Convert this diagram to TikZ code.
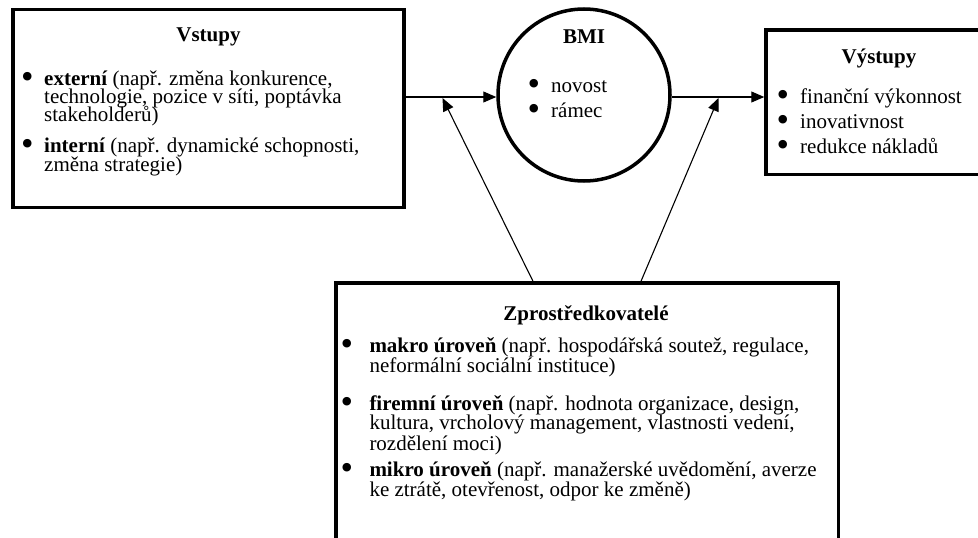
\documentclass[tikz,border=0pt]{standalone}
\usepackage{fontspec}
\setmainfont{Liberation Serif}
\usetikzlibrary{arrows.meta}

% enlarged bullet hung to the left of a line, #1 = gap between bullet and text
\newcommand\hangbul[1]{\llap{\smash{\raisebox{-3pt}{\scalebox{1.7}{\textbullet}}}\hspace{#1}}}

\begin{document}
\begin{tikzpicture}[x=1pt,y=-1pt,
  box/.style={draw, line width=3.5pt, inner sep=0pt},
  txt/.style={anchor=base west, inner sep=0pt, font=\fontsize{21}{21}\selectfont},
  ttl/.style={anchor=base, inner sep=0pt, font=\fontsize{21}{21}\selectfont\bfseries},
  flow/.style={line width=1.1pt, -{Triangle[length=13pt,width=11pt]}},
]
\useasboundingbox (0,0) rectangle (978,538);
\begin{scope}
\clip (0,0) rectangle (978,538);

% boxes and circle
\node[box, minimum width=391pt, minimum height=198pt] (in) at (208.5,108.5) {};
\node[box, circle, minimum size=172pt] (bmi) at (584,95) {};
\node[box, minimum width=226pt, minimum height=144.7pt] (out) at (879,102.35) {};
\node[box, minimum width=502.7pt, minimum height=277pt] (med) at (587.35,421.5) {};

% inputs
\node[ttl] (inT) at (208.5,41.7) {Vstupy};
\node[txt] (in1) at (44,85) {\hangbul{10.5pt}\textbf{externí} (např. změna konkurence,};
\node[txt] (in2) at (44,103.3) {technologie, pozice v síti, poptávka};
\node[txt] (in3) at (44,121.7) {stakeholderů)};
\node[txt] (in4) at (44,152.7) {\hangbul{10.5pt}\textbf{interní} (např. dynamické schopnosti,};
\node[txt] (in5) at (44,171.7) {změna strategie)};

% BMI
\node[ttl] (bmiT) at (584,43.3) {BMI};
\node[txt] (bmi1) at (551,92.7) {\hangbul{11pt}novost};
\node[txt] (bmi2) at (551,117.7) {\hangbul{11pt}rámec};

% outputs
\node[ttl] (outT) at (879,63.3) {Výstupy};
\node[txt] (out1) at (800,103.3) {\hangbul{11pt}finanční výkonnost};
\node[txt] (out2) at (800,128.3) {\hangbul{11pt}inovativnost};
\node[txt] (out3) at (800,153.3) {\hangbul{11pt}redukce nákladů};

% moderators
\node[ttl] (medT) at (586,320) {Zprostředkovatelé};
\node[txt] (med1) at (369.3,352.7) {\hangbul{16.4pt}\textbf{makro úroveň} (např. hospodářská soutež, regulace,};
\node[txt] (med2) at (369.3,372.7) {neformální sociální instituce)};
\node[txt] (med3) at (369.3,410) {\hangbul{16.4pt}\textbf{firemní úroveň} (např. hodnota organizace, design,};
\node[txt] (med4) at (369.3,429.3) {kultura, vrcholový management, vlastnosti vedení,};
\node[txt] (med5) at (369.3,450) {rozdělení moci)};
\node[txt] (med6) at (369.3,476.7) {\hangbul{16.4pt}\textbf{mikro úroveň} (např. manažerské uvědomění, averze};
\node[txt] (med7) at (369.3,496.7) {ke ztrátě, otevřenost, odpor ke změně)};

% connectors
\coordinate (lvl) at (0,97);
\coordinate (tipL) at (442.5,98);
\coordinate (tipR) at (718.5,98);
\coordinate (footL) at (533,0);
\coordinate (footR) at (641,0);
\draw[flow] (in.east |- lvl) -- (bmi.west |- lvl);
\draw[flow] (bmi.east |- lvl) -- (out.west |- lvl);
\draw[flow] (med.north -| footL) -- (tipL);
\draw[flow] (med.north -| footR) -- (tipR);
\end{scope}
\end{tikzpicture}
\end{document}
